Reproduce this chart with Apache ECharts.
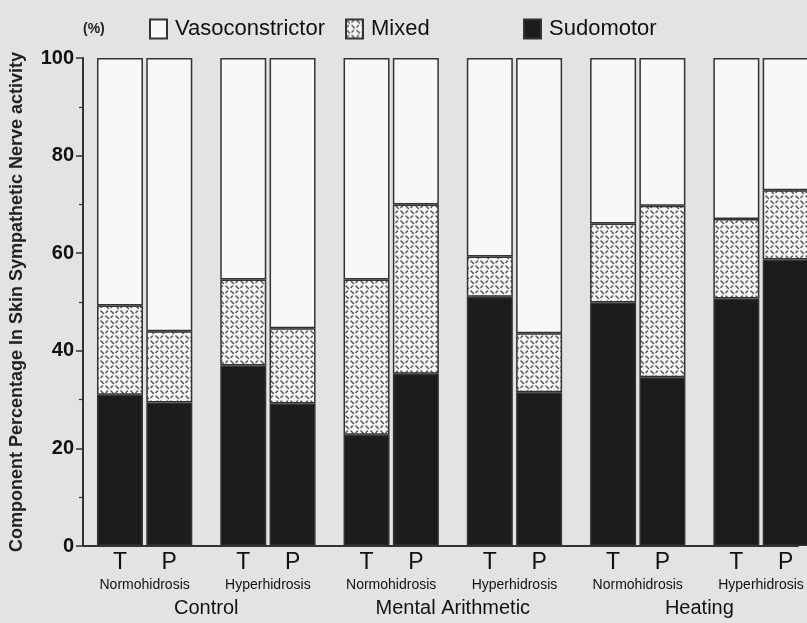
<!DOCTYPE html>
<html>
<head>
<meta charset="utf-8">
<script src="https://cdn.jsdelivr.net/npm/echarts@6/dist/echarts.min.js"></script>
<style>
html,body{margin:0;padding:0;background:#e3e3e3;}
#chart{width:807px;height:623px;}
</style>
</head>
<body>
<div id="chart"></div>
<script>
// ---- data ----
var barLabels = ['T','P','T','P','T','P','T','P','T','P','T','P'];
var subgroups = ['Normohidrosis','Hyperhidrosis','Normohidrosis','Hyperhidrosis','Normohidrosis','Hyperhidrosis'];
var groups = ['Control','Mental Arithmetic','Heating'];
var sudomotor = [31.0, 29.4, 37.0, 29.2, 22.8, 35.3, 51.1, 31.5, 49.9, 34.6, 50.7, 58.7];
var mixed     = [18.3, 14.6, 17.6, 15.4, 31.8, 34.7,  8.2, 12.1, 16.2, 35.1, 16.3, 14.2];
var vasoconstrictor = [50.7, 56.0, 45.4, 55.4, 45.4, 30.0, 40.7, 56.4, 33.9, 30.3, 33.0, 27.1];
var seriesNames = ['Vasoconstrictor','Mixed','Sudomotor'];
var yTicks = [0,20,40,60,80,100];

// ---- layout: half-unit slots on a category axis ----
var SLOT_MIN = -1.5, SLOT_MAX = 27.5, STEP = 0.5;
var NSLOT = Math.round((SLOT_MAX - SLOT_MIN)/STEP) + 1;
function posOf(i){ return Math.floor(i/2)*5 + (i%2)*2; }          // bar position in units
function idxOfPos(p){ return Math.round((p - SLOT_MIN)/STEP); }     // slot index
var slots = []; for (var s=0; s<NSLOT; s++) slots.push(String(s));
function spread(arr){
  var out = []; for (var s=0; s<NSLOT; s++) out.push('-');
  arr.forEach(function(v,i){ out[idxOfPos(posOf(i))] = v; });
  return out;
}
var labelAt = {}, subAt = {}, groupAt = {};
barLabels.forEach(function(l,i){ labelAt[idxOfPos(posOf(i))] = l; });
subgroups.forEach(function(l,i){ subAt[idxOfPos(i*5+1)] = l; });
groups.forEach(function(l,i){ groupAt[idxOfPos(i*10+3.5)] = l; });

// hatched pattern for "Mixed"
var pat = document.createElement('canvas');
pat.width = 10; pat.height = 10;
var g = pat.getContext('2d');
g.fillStyle = '#f7f7f7'; g.fillRect(0,0,10,10);
g.strokeStyle = '#555'; g.lineWidth = 1.5; g.lineCap = 'round';
g.beginPath(); g.moveTo(1,1); g.lineTo(3.5,3.5); g.stroke();
g.beginPath(); g.moveTo(6,6); g.lineTo(8.5,8.5); g.stroke();
g.beginPath(); g.moveTo(6,2.5); g.lineTo(7.5,1); g.stroke();
g.beginPath(); g.moveTo(1,7.5); g.lineTo(2.5,6); g.stroke();
var mixedFill = {image: pat, repeat: 'repeat'};

var FONT = '"Liberation Sans", Arial, sans-serif';

var chart = echarts.init(document.getElementById('chart'), null, {renderer:'canvas'});

function xAxisBase(extra){
  var a = {
    type:'category', data:slots, boundaryGap:false, position:'bottom',
    splitLine:{show:false}, axisTick:{show:false},
    axisLine:{show:false}
  };
  for (var k in extra) a[k] = extra[k];
  return a;
}

var option = {
  backgroundColor:'#e3e3e3',
  animation:false,
  title:{text:'(%)', left:78, top:17, textStyle:{fontFamily:FONT, fontSize:14, fontWeight:'bold', color:'#222'}},
  legend:[
    {data:['Vasoconstrictor'], left:144, top:13},
    {data:['Mixed'], left:340, top:13},
    {data:['Sudomotor'], left:518, top:13}
  ].map(function(l){
    l.icon='rect'; l.itemWidth=17; l.itemHeight=19; l.itemGap=10;
    l.textStyle={fontFamily:FONT, fontSize:22, color:'#111', padding:[0,0,0,3]};
    l.selectedMode=false;
    return l;
  }),
  grid:{left:83, right:9, top:58, bottom:77, containLabel:false},
  xAxis:[
    xAxisBase({
      axisLine:{show:true, lineStyle:{color:'#333', width:2}},
      axisLabel:{interval:0, margin:5, fontFamily:FONT, fontSize:23, color:'#111',
        formatter:function(v, i){ return labelAt[i] || ''; }}
    }),
    xAxisBase({
      axisLabel:{interval:0, margin:32, fontFamily:FONT, fontSize:14, color:'#111',
        formatter:function(v, i){ return subAt[i] || ''; }}
    }),
    xAxisBase({
      axisLabel:{interval:0, margin:52, fontFamily:FONT, fontSize:20, color:'#111',
        formatter:function(v, i){ return groupAt[i] || ''; }}
    })
  ],
  yAxis:{
    type:'value', min:yTicks[0], max:yTicks[yTicks.length-1], interval:yTicks[1]-yTicks[0],
    name:'Component Percentage In Skin Sympathetic Nerve activity',
    nameLocation:'middle', nameGap:57, nameRotate:90,
    nameTextStyle:{fontFamily:FONT, fontSize:18, fontWeight:'bold', color:'#222'},
    axisLine:{show:true, onZero:false, lineStyle:{color:'#333', width:2}},
    axisTick:{show:true, inside:false, length:7, lineStyle:{color:'#333', width:1.5}},
    minorTick:{show:true, splitNumber:2, length:4, lineStyle:{color:'#333', width:1.2}},
    splitLine:{show:false},
    axisLabel:{margin:9, fontFamily:FONT, fontSize:20, fontWeight:'bold', color:'#111'}
  },
  series:[
    {name:seriesNames[2], type:'bar', stack:'s', barWidth:46, clip:false, xAxisIndex:0,
     itemStyle:{color:'#1c1c1c', borderColor:'#333', borderWidth:1.5}, data:spread(sudomotor)},
    {name:seriesNames[1], type:'bar', stack:'s', barWidth:46, clip:false, xAxisIndex:0,
     itemStyle:{color:mixedFill, borderColor:'#333', borderWidth:1.5}, data:spread(mixed)},
    {name:seriesNames[0], type:'bar', stack:'s', barWidth:46, clip:false, xAxisIndex:0,
     itemStyle:{color:'#f8f8f8', borderColor:'#333', borderWidth:1.5}, data:spread(vasoconstrictor)}
  ]
};
chart.setOption(option);
</script>
</body>
</html>
